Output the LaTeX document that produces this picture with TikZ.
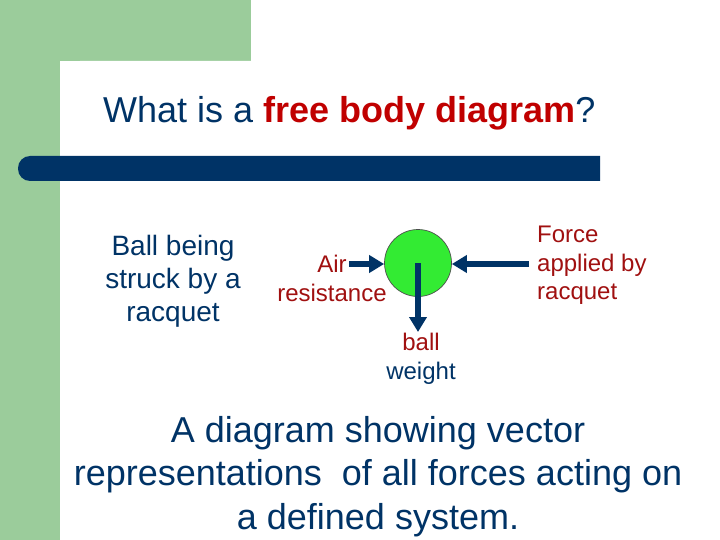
\documentclass[tikz,border=0pt]{standalone}
\usepackage{fontspec}
\setmainfont{Liberation Sans}
\usetikzlibrary{positioning,arrows.meta}

\definecolor{bandgreen}{RGB}{155,204,155}
\definecolor{navy}{RGB}{0,51,102}
\definecolor{titlered}{RGB}{192,0,0}
\definecolor{labelred}{RGB}{160,16,16}
\definecolor{ballgreen}{RGB}{51,235,51}

\begin{document}
\begin{tikzpicture}[x=1pt, y=-1pt,
    txt/.style={inner sep=0pt, align=center, text=navy},
    lbl/.style={inner sep=0pt, text=labelred, font=\fontsize{24}{28.5}\selectfont},
    force/.style={line width=6pt, draw=navy, -{Triangle[length=15pt, width=17pt]}}
]
\useasboundingbox (0,0) rectangle (720,540);
% slide background
\fill[bandgreen] (0,0) rectangle (251,61);
\fill[bandgreen] (0,0) rectangle (60,540);
\fill[white] (60,540) [rounded corners=20] -- (60,61) [sharp corners] -- (300,61) -- (300,540) -- cycle;
\fill[navy] (600,156) [rounded corners=12] -- (18,156) -- (18,181) [sharp corners] -- (600,181) -- cycle;

\node[txt, anchor=base west, font=\fontsize{36}{40}\selectfont] (title) at (103,123)
    {What is a \textcolor{titlered}{\textbf{free body diagram}}?};

\node[txt, anchor=north, font=\fontsize{28}{33}\selectfont] (case) at (173,235)
    {Ball being\\struck by a\\racquet};

% the ball and the forces on it
\node[circle, draw=black!70, line width=0.7pt, fill=ballgreen, minimum size=67pt, inner sep=0pt] (ball) at (418,263) {};

\node[lbl, align=center, anchor=north] (air) at (332,255) {Air\\resistance};
\node[lbl, align=left, anchor=north west] (racq) at (537,226) {Force\\applied by\\racquet};
\node[lbl, align=center, anchor=north] (wt) at (421,333) {ball\\\textcolor{navy}{weight}};

\coordinate (airtail) at (349,264);
\coordinate (racqtail) at (529,264);
\coordinate (wttip) at (418,332);

\draw[force] (airtail) -- (ball.west |- airtail);
\draw[force] (racqtail) -- (ball.east |- racqtail);
\draw[force] (ball.center) -- (wttip);

\node[txt, anchor=north, font=\fontsize{36}{43.5}\selectfont] (defn) at (378,416)
    {A diagram showing vector\\representations\ \ of all forces acting on\\a defined system.};
\end{tikzpicture}
\end{document}
